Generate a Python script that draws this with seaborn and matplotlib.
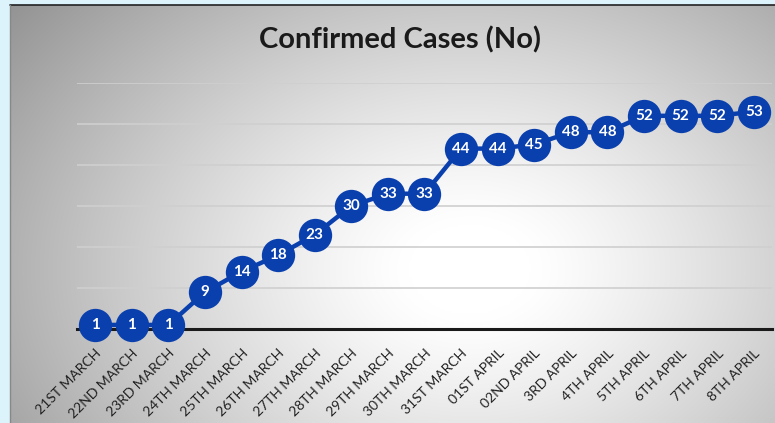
import numpy as np
import matplotlib
matplotlib.use("Agg")
import matplotlib.pyplot as plt
import seaborn as sns
import pandas as pd

# ---------- data ----------
dates = [
    "21ST MARCH", "22ND MARCH", "23RD MARCH", "24TH MARCH", "25TH MARCH",
    "26TH MARCH", "27TH MARCH", "28TH MARCH", "29TH MARCH", "30TH MARCH",
    "31ST MARCH", "01ST APRIL", "02ND APRIL", "3RD APRIL", "4TH APRIL",
    "5TH APRIL", "6TH APRIL", "7TH APRIL", "8TH APRIL",
]
cases = [1, 1, 1, 9, 14, 18, 23, 30, 33, 33, 44, 44, 45, 48, 48, 52, 52, 52, 53]
title = "Confirmed Cases (No)"

df = pd.DataFrame({"idx": range(len(dates)), "date": dates, "cases": cases})

sns.set_theme(style="white")
plt.rcParams["font.family"] = ["Lato", "DejaVu Sans"]

W, H = 775, 423
fig = plt.figure(figsize=(W / 100, H / 100), dpi=100)
fig.patch.set_facecolor("#dcf3fc")

# ---------- gradient panel ----------
px0, py0 = 10, 5
bg = fig.add_axes([px0 / W, 0, 1 - px0 / W, 1 - py0 / H])
gx, gy = np.meshgrid(np.linspace(px0, W, 300), np.linspace(py0, H, 200))
d = np.sqrt(((gx - 470) / 520) ** 2 + ((gy - 270) / 380) ** 2)
shade = 1.0 - 0.42 * np.clip(d - 0.12, 0, None) ** 1.2
bg.imshow(np.dstack([shade] * 3), aspect="auto", extent=[0, 1, 0, 1],
          interpolation="bilinear")
bg.set_axis_off()
# dark frame on top and left edges
fig.add_artist(plt.Line2D([px0 / W, 1], [1 - py0 / H] * 2, color="#222222", lw=1.2))
fig.add_artist(plt.Line2D([px0 / W] * 2, [0, 1 - py0 / H], color="#888888", lw=1.0))

# ---------- main plot ----------
left, right = 77, 772
y0_px, y60_px = 329, 83
ax = fig.add_axes([left / W, 1 - y0_px / H, (right - left) / W, (y0_px - y60_px) / H])
ax.patch.set_alpha(0)

blue = "#0a3fae"
sns.lineplot(data=df, x="idx", y="cases", ax=ax, color=blue, lw=3.2,
             marker="o", markersize=24, markeredgewidth=0, zorder=5,
             clip_on=False)

for i, v in enumerate(cases):
    ax.text(i, v, str(v), color="white", fontsize=11, fontweight="bold",
            ha="center", va="center", zorder=6)

ax.set_xlim(-0.5, len(dates) - 0.5)
ax.set_ylim(0, 60)
ax.set_yticks([10, 20, 30, 40, 50, 60])
ax.set_yticklabels([])
ax.tick_params(axis="y", length=0)
ax.grid(axis="y", color="#cfcfcf", lw=1.2)
ax.set_axisbelow(True)
for s in ["top", "right", "left"]:
    ax.spines[s].set_visible(False)
ax.spines["bottom"].set_color("#1a1a1a")
ax.spines["bottom"].set_linewidth(2.2)
ax.spines["bottom"].set_zorder(1)

ax.set_xticks(range(len(dates)))
ax.set_xticklabels(dates, rotation=45, ha="right", rotation_mode="anchor",
                   fontsize=10, color="#222222")
ax.tick_params(axis="x", length=0, pad=13)
ax.set_xlabel("")
ax.set_ylabel("")

fig.text(400 / W, 1 - 40 / H, title, ha="center", va="center",
         fontsize=21, fontweight="bold", color="#1a1a1a")

fig.savefig("out.png", dpi=100)
